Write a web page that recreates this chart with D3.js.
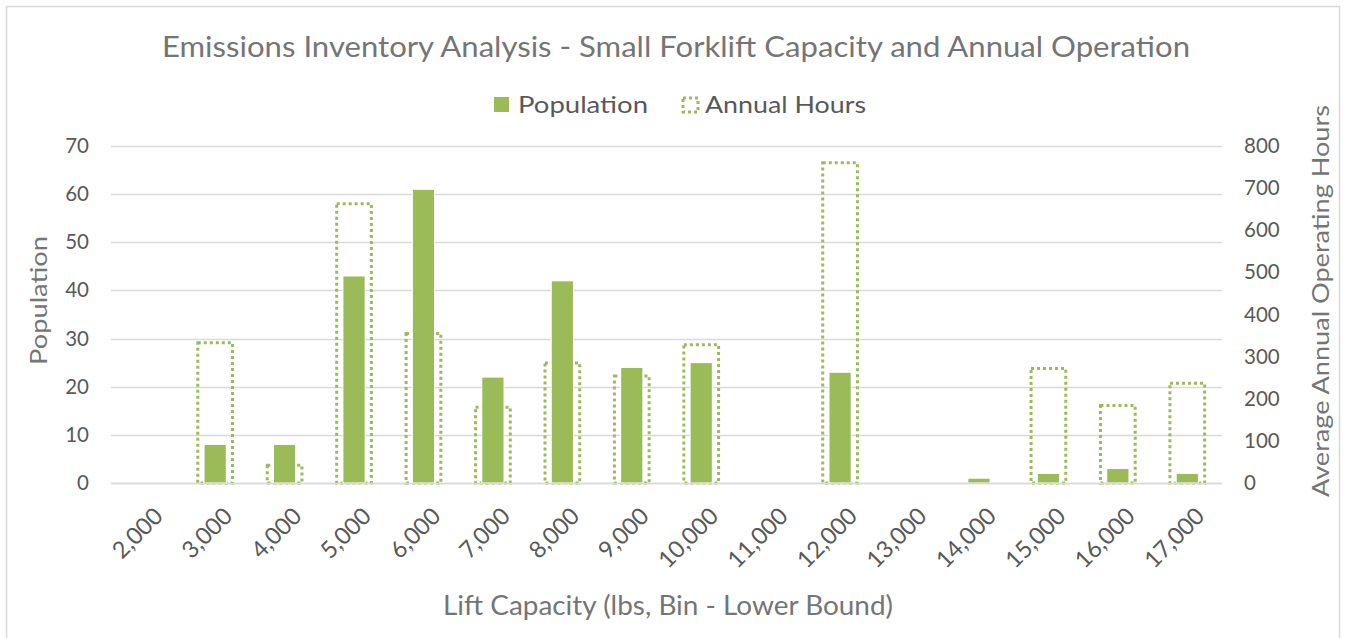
<!DOCTYPE html>
<html>
<head>
<meta charset="utf-8">
<script src="https://cdn.jsdelivr.net/npm/d3@7"></script>
<style>
  html, body { margin: 0; padding: 0; background: #fff; }
  svg { display: block; font-family: Lato, "Open Sans", sans-serif; }
</style>
</head>
<body>
<svg id="chart" width="1347" height="638"></svg>
<script>
// Lift capacity bins (lower bound, lbs)
const capacities = [2000, 3000, 4000, 5000, 6000, 7000, 8000, 9000, 10000, 11000, 12000, 13000, 14000, 15000, 16000, 17000];
// Forklift population per bin
const population = [0, 8, 8, 43, 61, 22, 42, 24, 25, 0, 23, 0, 1, 2, 3, 2];
// Average annual operating hours per bin
const annualHours = [0, 333, 42, 663, 355, 180, 285, 254, 328, 0, 760, 0, 0, 272, 184, 237];
const popTicks = [0, 10, 20, 30, 40, 50, 60, 70];
const hourTicks = [0, 100, 200, 300, 400, 500, 600, 700, 800];

const GREEN = "#9BBB59";
const GRID = "#D9D9D9";
const TEXT = "#595959";
const TITLE = "#757575";

const svg = d3.select("#chart");
const fmt = d3.format(",");

const plotLeft = 111, plotRight = 1222, plotTop = 146, plotBottom = 483;

const x = d3.scaleBand().domain(capacities).range([plotLeft, plotRight]);
const yPop = d3.scaleLinear().domain([0, 70]).range([plotBottom, plotTop]);
const yHours = d3.scaleLinear().domain([0, 800]).range([plotBottom, plotTop]);

// chart frame
svg.append("rect")
  .attr("x", 6.5).attr("y", 6.5).attr("width", 1333).attr("height", 640)
  .attr("fill", "#fff").attr("stroke", "#D9D9D9").attr("stroke-width", 1.5);

// helper for text stretched to a fixed run length
function label(g, txt, size, len, fill) {
  return g.append("text")
    .attr("font-size", size).attr("fill", fill)
    .attr("textLength", len).attr("lengthAdjust", "spacingAndGlyphs")
    .text(txt);
}

// title
label(svg, "Emissions Inventory Analysis - Small Forklift Capacity and Annual Operation", 28.5, 1028, TITLE)
  .attr("x", 162).attr("y", 57);

// gridlines from the primary axis
svg.append("g")
  .selectAll("line").data(popTicks).join("line")
  .attr("x1", plotLeft).attr("x2", plotRight)
  .attr("y1", d => Math.round(yPop(d)) + 0.5).attr("y2", d => Math.round(yPop(d)) + 0.5)
  .attr("stroke", GRID).attr("stroke-width", 1.5);

// left axis
const leftAxis = svg.append("g")
  .attr("transform", `translate(${plotLeft - 22},0)`)
  .call(d3.axisLeft(yPop).tickValues(popTicks).tickSize(0).tickPadding(0));
leftAxis.select(".domain").remove();
leftAxis.selectAll("text").attr("font-size", 20.5).attr("fill", TEXT)
  .attr("font-family", "Lato, sans-serif");

// right axis
const rightAxis = svg.append("g")
  .attr("transform", `translate(${plotRight + 22},0)`)
  .call(d3.axisRight(yHours).tickValues(hourTicks).tickSize(0).tickPadding(0));
rightAxis.select(".domain").remove();
rightAxis.selectAll("text").attr("font-size", 20.5).attr("fill", TEXT)
  .attr("font-family", "Lato, sans-serif");

// x axis labels, rotated
const bottomAxis = svg.append("g")
  .attr("transform", `translate(0,${plotBottom + 23})`)
  .call(d3.axisBottom(x).tickFormat(fmt).tickSize(0).tickPadding(0));
bottomAxis.select(".domain").remove();
bottomAxis.selectAll("text")
  .attr("font-size", 23.5).attr("fill", TEXT)
  .attr("font-family", "Lato, sans-serif")
  .attr("text-anchor", "end")
  .attr("dy", "0.7em")
  .attr("transform", "translate(7,0) rotate(-45)");

const hoursW = x.bandwidth() * 0.5;
const popW = x.bandwidth() * 0.32;

const rows = capacities.map((c, i) => ({ c, pop: population[i], hrs: annualHours[i] }));

// annual hours: dotted outline bars (secondary axis)
svg.append("g")
  .selectAll("rect").data(rows.filter(d => d.hrs > 0)).join("rect")
  .attr("x", d => x(d.c) + x.bandwidth() / 2 - hoursW / 2)
  .attr("y", d => yHours(d.hrs))
  .attr("width", hoursW)
  .attr("height", d => plotBottom - yHours(d.hrs))
  .attr("fill", "none")
  .attr("stroke", GREEN).attr("stroke-width", 3)
  .attr("stroke-dasharray", "3,3");

// population: solid bars (primary axis)
svg.append("g")
  .selectAll("rect").data(rows.filter(d => d.pop > 0)).join("rect")
  .attr("x", d => x(d.c) + x.bandwidth() / 2 - popW / 2)
  .attr("y", d => yPop(d.pop))
  .attr("width", popW)
  .attr("height", d => plotBottom - yPop(d.pop))
  .attr("fill", GREEN)
  .attr("stroke", "#fff").attr("stroke-width", 1);

// baseline
svg.append("line")
  .attr("x1", plotLeft).attr("x2", plotRight).attr("y1", plotBottom + 0.5).attr("y2", plotBottom + 0.5)
  .attr("stroke", GRID).attr("stroke-width", 1.5);

// axis titles
label(svg, "Population", 24, 129, TITLE)
  .attr("transform", "translate(47,365) rotate(-90)");

label(svg, "Average Annual Operating Hours", 24, 392, TITLE)
  .attr("transform", "translate(1329,497) rotate(-90)");

label(svg, "Lift Capacity (lbs, Bin - Lower Bound)", 26, 450, TITLE)
  .attr("x", 443).attr("y", 615);

// legend
const legend = svg.append("g");
legend.append("rect")
  .attr("x", 494).attr("y", 97).attr("width", 15).attr("height", 15)
  .attr("fill", GREEN);
label(legend, "Population", 24, 130, TEXT)
  .attr("x", 518).attr("y", 113);
legend.append("rect")
  .attr("x", 683).attr("y", 98).attr("width", 15).attr("height", 14)
  .attr("fill", "none").attr("stroke", GREEN).attr("stroke-width", 3)
  .attr("stroke-dasharray", "3,3");
label(legend, "Annual Hours", 24, 161, TEXT)
  .attr("x", 705).attr("y", 113);
</script>
</body>
</html>
